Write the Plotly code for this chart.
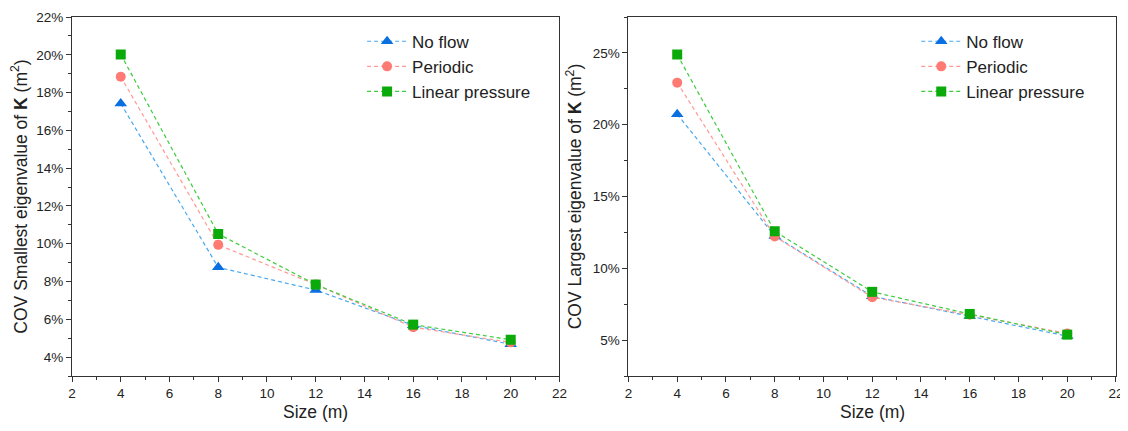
import plotly.graph_objects as go

sizes = [4, 8, 12, 16, 20]
series_names = ["No flow", "Periodic", "Linear pressure"]

# COV smallest eigenvalue (%)
small_noflow = [17.42, 8.75, 7.55, 5.68, 4.68]
small_periodic = [18.84, 9.94, 7.84, 5.58, 4.78]
small_linear = [20.02, 10.52, 7.84, 5.72, 4.92]

# COV largest eigenvalue (%)
large_noflow = [20.73, 12.25, 8.05, 6.68, 5.28]
large_periodic = [22.93, 12.22, 7.98, 6.76, 5.46]
large_linear = [24.88, 12.58, 8.36, 6.82, 5.38]

left_ticks = [4, 6, 8, 10, 12, 14, 16, 18, 20, 22]
left_ticktext = ["4%", "6%", "8%", "10%", "12%", "14%", "16%", "18%", "20%", "22%"]
right_ticks = [5, 10, 15, 20, 25]
right_ticktext = ["5%", "10%", "15%", "20%", "25%"]
x_ticks = [2, 4, 6, 8, 10, 12, 14, 16, 18, 20, 22]
x_title = "Size (m)"

line_colors = ["#49a8f0", "#ff9a94", "#3ccc3c"]
marker_colors = ["#0a6fe0", "#ff7a72", "#0aaa0a"]
symbols = ["triangle-up", "circle", "square"]
marker_sizes = [11, 10, 10]

FONT = "Liberation Sans, Arial, sans-serif"

fig = go.Figure()

left_data = [small_noflow, small_periodic, small_linear]
right_data = [large_noflow, large_periodic, large_linear]

for i, name in enumerate(series_names):
    fig.add_trace(go.Scatter(
        x=sizes, y=left_data[i], name=name, mode="lines+markers",
        line=dict(color=line_colors[i], width=1.2, dash="4px,3px"),
        marker=dict(color=marker_colors[i], symbol=symbols[i], size=marker_sizes[i]),
        xaxis="x", yaxis="y", legend="legend",
    ))
for i, name in enumerate(series_names):
    fig.add_trace(go.Scatter(
        x=sizes, y=right_data[i], name=name, mode="lines+markers",
        line=dict(color=line_colors[i], width=1.2, dash="4px,3px"),
        marker=dict(color=marker_colors[i], symbol=symbols[i], size=marker_sizes[i]),
        xaxis="x2", yaxis="y2", legend="legend2",
    ))

axis_common = dict(
    showline=True, linecolor="#333", linewidth=1.2, mirror=True,
    ticks="outside", ticklen=5, tickwidth=1, tickcolor="#333",
    showgrid=False, zeroline=False, automargin=False,
    ticklabeloverflow="allow",
    tickfont=dict(family=FONT, size=13.5, color="#222"),
)
title_font = dict(family=FONT, size=17.5, color="#222")
minor_common = dict(ticks="outside", ticklen=3, tickcolor="#333")

# page has an 8px body margin; coordinates below are figure pixels (screen - 8)
FW, FH = 1120, 415
L, R, T, B = 64, FW - 1107.7, 9.3, FH - 368
W = FW - L - R
H = FH - T - B
left_dom = [0, (551.3 - L) / W]
right_dom = [(620.3 - L) / W, 1]

legend_font = dict(family=FONT, size=17, color="#222")

fig.update_layout(
    width=FW, height=FH,
    margin=dict(l=L, r=R, t=T, b=B, autoexpand=False),
    paper_bgcolor="white", plot_bgcolor="white",
    font=dict(family=FONT, color="#222"),
    xaxis=dict(domain=left_dom, range=[2, 22], tickvals=x_ticks,
               minor=dict(dtick=1, **minor_common),
               anchor="y", **axis_common),
    yaxis=dict(range=[3, 22], tickvals=left_ticks, ticktext=left_ticktext,
               minor=dict(dtick=1, **minor_common),
               title=dict(text="COV Smallest eigenvalue of <b>K</b> (m<sup>2</sup>)",
                          font=title_font, standoff=4),
               anchor="x", **axis_common),
    xaxis2=dict(domain=right_dom, range=[2, 22], tickvals=x_ticks,
                minor=dict(dtick=1, **minor_common),
                anchor="y2", **axis_common),
    yaxis2=dict(range=[2.5, 27.5], tickvals=right_ticks, ticktext=right_ticktext,
                minor=dict(dtick=2.5, **minor_common),
                title=dict(text="COV Largest eigenvalue of <b>K</b> (m<sup>2</sup>)",
                           font=title_font, standoff=6),
                anchor="x2", **axis_common),
    legend=dict(x=(354 - L) / W, y=1 - (16 - T) / H,
                xanchor="left", yanchor="top",
                bgcolor="rgba(0,0,0,0)", font=legend_font,
                tracegroupgap=0, itemwidth=40),
    legend2=dict(x=(908 - L) / W, y=1 - (16 - T) / H,
                 xanchor="left", yanchor="top",
                 bgcolor="rgba(0,0,0,0)", font=legend_font,
                 tracegroupgap=0, itemwidth=40),
    showlegend=True,
)

title_y = 1 - (403.5 - T) / H
for dom in (left_dom, right_dom):
    fig.add_annotation(
        text=x_title, xref="paper", yref="paper",
        x=(dom[0] + dom[1]) / 2, y=title_y, xanchor="center", yanchor="middle",
        showarrow=False, font=title_font,
    )

fig.write_html("out.html")
